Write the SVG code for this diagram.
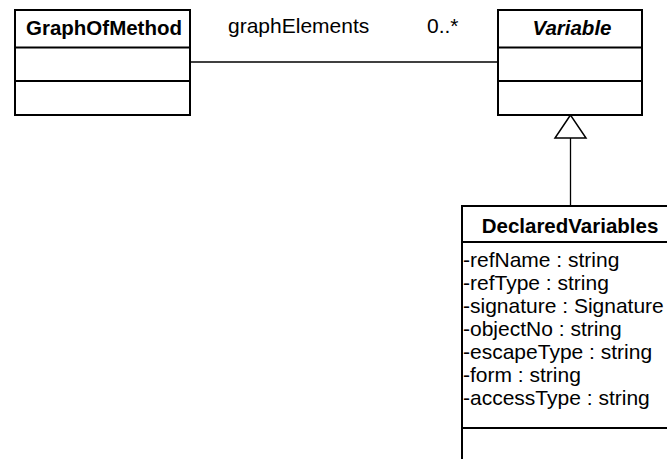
<svg xmlns="http://www.w3.org/2000/svg" width="667" height="459" viewBox="0 0 667 459" font-family="'Liberation Sans', Arial, Helvetica, sans-serif">
  <style>
    .box { fill: #ffffff; stroke: #000000; stroke-width: 2; }
    .sep { stroke: #000000; stroke-width: 2; }
    .edge { fill: none; stroke: #000000; stroke-width: 1.3; }
    .head { fill: #ffffff; stroke: #000000; stroke-width: 1.5; }
    .lbl { font-size: 21px; fill: #000000; }
    .title { font-size: 20.5px; font-weight: bold; text-anchor: middle; fill: #000000; }
    .abstract { font-style: italic; }
  </style>
  <rect width="667" height="459" fill="#ffffff"/>

  <!-- connectors -->
  <g id="connectors">
    <!-- association GraphOfMethod -> Variable -->
    <line class="edge" x1="190" y1="62" x2="498" y2="62"/>
    <text class="lbl" x="228" y="33">graphElements</text>
    <text class="lbl" x="427" y="33">0..*</text>
    <!-- generalization DeclaredVariables -> Variable -->
    <line class="edge" x1="570.5" y1="138" x2="570.5" y2="206"/>
    <polygon class="head" points="570.5,115 555,138 586,138"/>
  </g>

  <!-- GraphOfMethod -->
  <g id="GraphOfMethod">
    <rect class="box" x="15" y="10" width="175" height="105"/>
    <line class="sep" x1="15" y1="47.5" x2="190" y2="47.5"/>
    <line class="sep" x1="15" y1="81" x2="190" y2="81"/>
    <text class="title" x="104" y="35">GraphOfMethod</text>
  </g>

  <!-- Variable (abstract) -->
  <g id="Variable">
    <rect class="box" x="498" y="10" width="144" height="105"/>
    <line class="sep" x1="498" y1="47.5" x2="642" y2="47.5"/>
    <line class="sep" x1="498" y1="81" x2="642" y2="81"/>
    <text class="title abstract" x="572" y="35">Variable</text>
  </g>

  <!-- DeclaredVariables -->
  <g id="DeclaredVariables">
    <rect class="box" x="462" y="206" width="216" height="270"/>
    <line class="sep" x1="462" y1="242" x2="678" y2="242"/>
    <line class="sep" x1="462" y1="428" x2="678" y2="428"/>
    <text class="title" x="570" y="233">DeclaredVariables</text>
    <text class="lbl" x="463" y="267">-refName : string</text>
    <text class="lbl" x="463" y="290">-refType : string</text>
    <text class="lbl" x="463" y="313">-signature : Signature</text>
    <text class="lbl" x="463" y="336">-objectNo : string</text>
    <text class="lbl" x="463" y="359">-escapeType : string</text>
    <text class="lbl" x="463" y="382">-form : string</text>
    <text class="lbl" x="463" y="405">-accessType : string</text>
  </g>
</svg>
